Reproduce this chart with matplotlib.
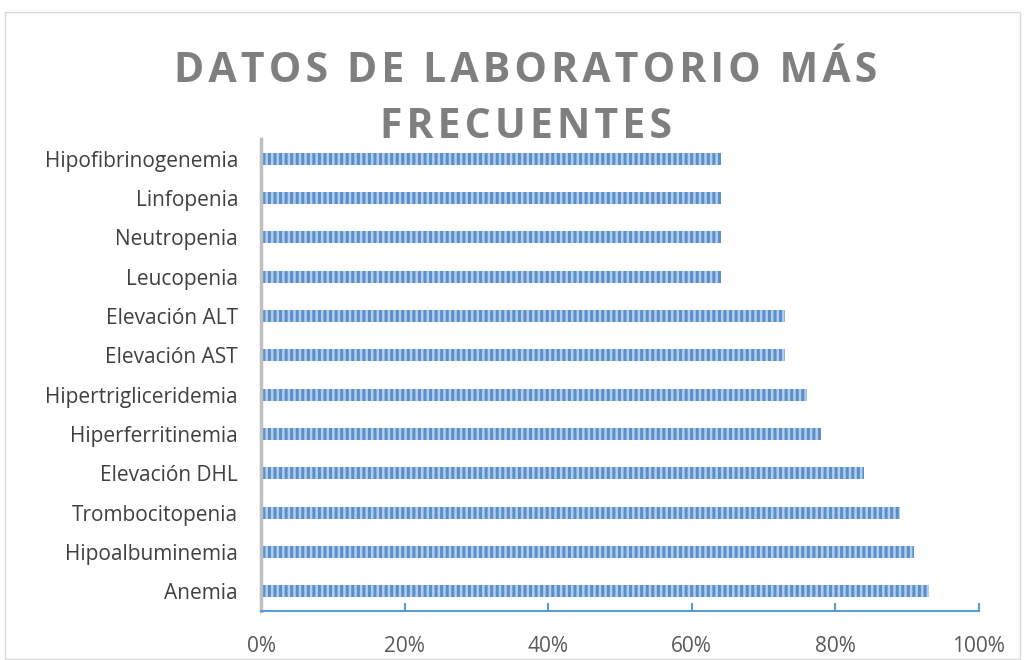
import numpy as np
import matplotlib.pyplot as plt
from matplotlib.patches import Rectangle
from matplotlib.ticker import PercentFormatter

categorias = ['Anemia', 'Hipoalbuminemia', 'Trombocitopenia', 'Elevación DHL',
              'Hiperferritinemia', 'Hipertrigliceridemia', 'Elevación AST',
              'Elevación ALT', 'Leucopenia', 'Neutropenia', 'Linfopenia',
              'Hipofibrinogenemia']
valores = [93, 91, 89, 84, 78, 76, 73, 73, 64, 64, 64, 64]
ticks_x = [0, 20, 40, 60, 80, 100]
titulo = ['DATOS DE LABORATORIO MÁS', 'FRECUENTES']

plt.rcParams['font.family'] = ['Open Sans', 'DejaVu Sans']
plt.rcParams['hatch.linewidth'] = 2.2

fig = plt.figure(figsize=(10.25, 6.6), dpi=100)
ax = fig.add_axes([261/1025, 1 - 611/660, (979-261)/1025, (611-139)/660])

# marco del grafico
fig.patches.append(Rectangle((5/1025, 0.002), 1 - 10/1025, 1 - 12/660 - 0.002,
                             transform=fig.transFigure, fill=False,
                             edgecolor='#D9D9D9', linewidth=1))

y = np.arange(len(categorias))
ax.barh(y, valores, height=0.31, color='#B4CDEB', edgecolor='#5B8FCC',
        hatch='|||', linewidth=0)

ax.set_xlim(0, 100)
ax.set_ylim(-0.5, len(categorias) - 0.5)
ax.set_yticks(y)
ax.set_yticklabels(categorias, fontsize=15, color='#404040')
ax.set_xticks(ticks_x)
ax.xaxis.set_major_formatter(PercentFormatter(decimals=0))
ax.tick_params(axis='x', direction='in', length=6, color='#5B9BD5', width=1.5,
               labelsize=15, labelcolor='#595959', pad=18)
ax.tick_params(axis='y', length=0, pad=16.5)

for s in ['top', 'right']:
    ax.spines[s].set_visible(False)
ax.spines['bottom'].set_color('#5B9BD5')
ax.spines['bottom'].set_linewidth(1.5)
ax.spines['left'].set_color('#BFBFBF')
ax.spines['left'].set_linewidth(2.5)

# titulo con espaciado entre letras
for i, linea in enumerate(titulo):
    fig.text(526/1025, 1 - (72 + 55*i)/660, '\u200a'.join(linea), ha='center',
             va='center', fontsize=29.5, fontweight='bold', color='#7F7F7F')

plt.savefig('out.png', dpi=100)
